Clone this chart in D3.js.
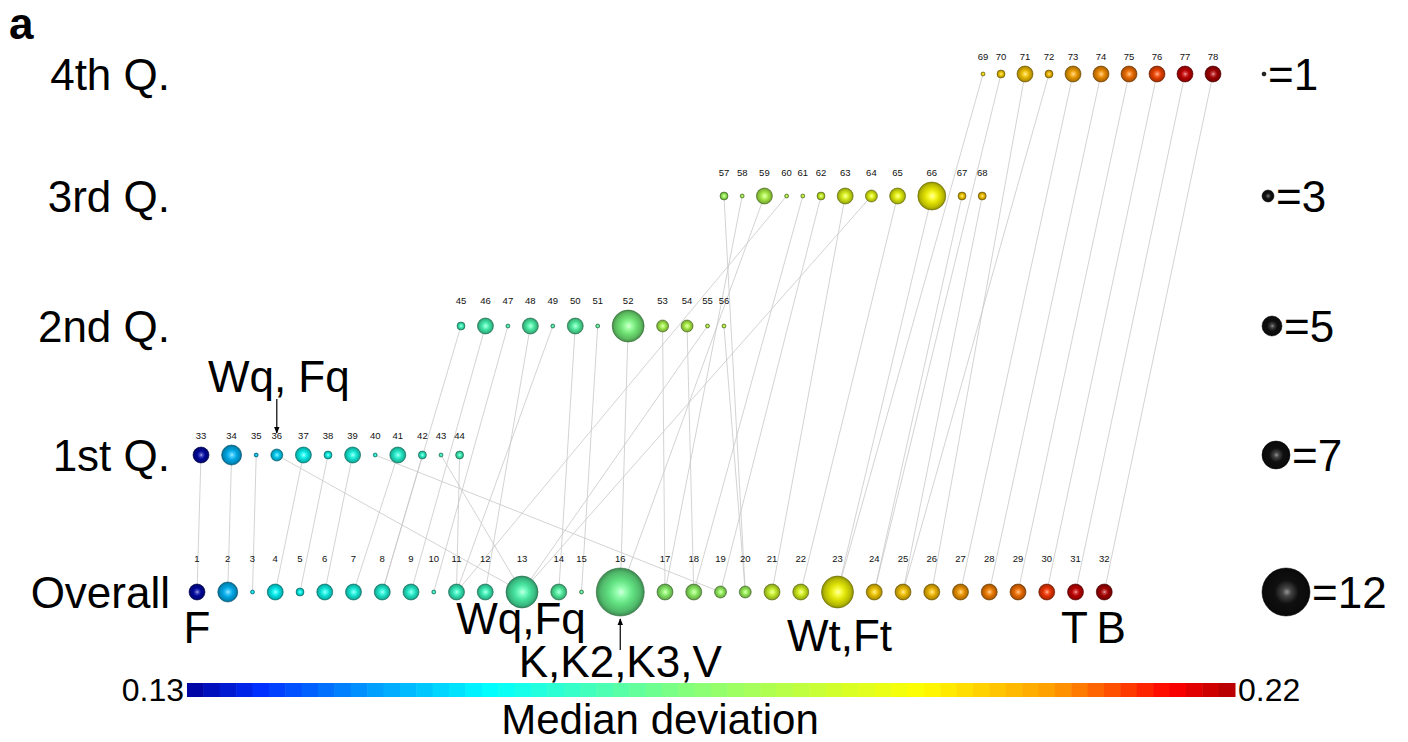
<!DOCTYPE html>
<html>
<head>
<meta charset="utf-8">
<script src="https://cdn.jsdelivr.net/npm/d3@7"></script>
<style>
  body { margin: 0; background: #fff; }
  text { font-family: "Liberation Sans", Arial, Helvetica, sans-serif; }
</style>
</head>
<body>
<svg id="svg" width="1408" height="742"></svg>
<script>
// ---- data ----
const rowNames = ["Overall", "1st Q.", "2nd Q.", "3rd Q.", "4th Q."];
const legendSize = [12, 7, 5, 3, 1];

// overall: nodes 1..32
const overallSize = [4, 5, 1, 4, 2, 4, 4, 4, 4, 1, 4, 4, 8, 4, 1, 12, 4, 4, 3, 3, 4, 4, 8, 4, 4, 4, 4, 4, 4, 4, 4, 4];
const overallMedian = [0.131, 0.149, 0.155, 0.156, 0.157, 0.158, 0.159, 0.160, 0.161, 0.162, 0.163, 0.164,
  0.166, 0.167, 0.168, 0.170, 0.175, 0.176, 0.177, 0.178, 0.186, 0.188, 0.192, 0.198, 0.199, 0.200,
  0.204, 0.206, 0.207, 0.211, 0.218, 0.220];

// quarters: nodes 33..78, link = overall node each one joins
const q1Size = [4, 5, 1, 3, 4, 2, 4, 1, 4, 2, 1, 2];
const q1Median = [0.131, 0.149, 0.151, 0.152, 0.157, 0.158, 0.159, 0.160, 0.161, 0.162, 0.163, 0.164];
const q1Link = [1, 2, 3, 13, 4, 5, 6, 19, 7, 8, 13, 11];

const q2Size = [2, 4, 1, 4, 1, 4, 1, 8, 3, 3, 1, 1];
const q2Median = [0.164, 0.165, 0.165, 0.166, 0.166, 0.167, 0.168, 0.172, 0.180, 0.181, 0.182, 0.183];
const q2Link = [8, 9, 10, 12, 11, 14, 15, 16, 17, 18, 13, 20];

const q3Size = [2, 1, 4, 1, 1, 2, 4, 3, 4, 7, 2, 2];
const q3Median = [0.178, 0.180, 0.181, 0.182, 0.184, 0.186, 0.189, 0.190, 0.191, 0.193, 0.198, 0.199];
const q3Link = [20, 17, 16, 11, 18, 19, 21, 13, 22, 23, 24, 25];

const q4Size = [1, 2, 4, 2, 4, 4, 4, 4, 4, 4];
const q4Median = [0.196, 0.198, 0.199, 0.200, 0.203, 0.205, 0.207, 0.210, 0.218, 0.220];
const q4Link = [23, 24, 26, 25, 27, 28, 29, 30, 31, 32];

const colorStops = [0, 0.07, 0.18, 0.29, 0.47, 0.70, 0.83, 0.94, 1];
const colorList = ["#00009a", "#0030ff", "#00a0ff", "#00ffff", "#80ff80", "#ffff00", "#ff9900", "#ff0000", "#b00000"];
const medianDomain = [0.13, 0.22];
const medianTicks = ["0.13", "0.22"];

const annotations = [
  { text: "F", node: 1, dx: 0, y: 643 },
  { text: "Wq,Fq", node: 13, dx: -1, y: 634 },
  { text: "K,K2,K3,V", node: 16, dx: 0, y: 677, arrow: [650, 619] },
  { text: "Wt,Ft", node: 23, dx: 2, y: 651 },
  { text: "T", node: 31, dx: -1, y: 643 },
  { text: "B", node: 32, dx: 7, y: 643 },
  { text: "Wq, Fq", node: 36, dx: 2, y: 392, arrow: [399, 433] }
];

// ---- layout ----
const svg = d3.select("#svg");
const W = 1408, H = 742;
svg.append("rect").attr("width", W).attr("height", H).attr("fill", "#fff");

const rowY = d3.scaleOrdinal().domain(rowNames).range([592, 455, 326, 196, 74]);
const rowStart = [197, 201, 461, 724, 983];
const rowGap = [12.75, 12.6, 12.45, 12.2, 12.0];
const rScale = d3.scaleLinear().domain([0, 12]).range([0, 24]);

const t = d3.scaleLinear().domain(medianDomain).range([0, 1]).clamp(true);
const cmap = d3.scaleLinear().domain(colorStops).range(colorList).interpolate(d3.interpolateRgb);
const color = v => cmap(t(v));

const rowsData = [
  { size: overallSize, median: overallMedian, link: null },
  { size: q1Size, median: q1Median, link: q1Link },
  { size: q2Size, median: q2Median, link: q2Link },
  { size: q3Size, median: q3Median, link: q3Link },
  { size: q4Size, median: q4Median, link: q4Link }
];

let nodes = [];
let id = 1;
rowsData.forEach((row, ri) => {
  let x = rowStart[ri];
  row.size.forEach((s, i) => {
    if (i > 0) x += rScale(row.size[i - 1]) + rScale(s) + rowGap[ri];
    nodes.push({
      id: id++, row: ri, x: x, y: rowY(rowNames[ri]), r: rScale(s),
      median: row.median[i], link: row.link ? row.link[i] : null
    });
  });
});
const byId = {};
nodes.forEach(n => byId[n.id] = n);

// ---- gradients ----
const defs = svg.append("defs");
function ballGradient(gid, c, hi) {
  const base = d3.color(c);
  const g = defs.append("radialGradient").attr("id", gid)
    .attr("cx", "50%").attr("cy", "50%").attr("r", "50%")
    .attr("fx", "52%").attr("fy", "50%");
  g.append("stop").attr("offset", "0%").attr("stop-color", d3.interpolateRgb(c, "#fff")(hi));
  g.append("stop").attr("offset", "18%").attr("stop-color", d3.interpolateRgb(c, "#fff")(hi * 0.4));
  g.append("stop").attr("offset", "50%").attr("stop-color", base.darker(0.35));
  g.append("stop").attr("offset", "82%").attr("stop-color", base.darker(0.9));
  g.append("stop").attr("offset", "100%").attr("stop-color", base.darker(1.7));
}
nodes.forEach(n => ballGradient("g" + n.id, color(n.median), 0.7));
ballGradient("gblack", "#111", 0.55);

defs.append("marker").attr("id", "arrow")
  .attr("viewBox", "0 0 10 10").attr("refX", 9).attr("refY", 5)
  .attr("markerWidth", 6).attr("markerHeight", 6).attr("orient", "auto")
  .append("path").attr("d", "M0,1 L10,5 L0,9 Z").attr("fill", "#000");

// ---- links ----
const linkG = svg.append("g");
nodes.filter(n => n.link).forEach(n => {
  const o = byId[n.link];
  linkG.append("line")
    .attr("x1", n.x).attr("y1", n.y).attr("x2", o.x).attr("y2", o.y)
    .attr("stroke", "#c8c8c8").attr("stroke-width", 0.8);
});

// ---- balls + numbers ----
const rowMaxR = rowsData.map(row => rScale(d3.max(row.size)));
const ballG = svg.append("g");
ballG.selectAll("circle").data(nodes).join("circle")
  .attr("cx", d => d.x).attr("cy", d => d.y).attr("r", d => d.r)
  .attr("fill", d => `url(#g${d.id})`)
  .attr("stroke", d => d3.color(color(d.median)).darker(2.5))
  .attr("stroke-width", 0.6);

ballG.selectAll("text").data(nodes).join("text")
  .attr("x", d => d.x).attr("y", d => d.y - rowMaxR[d.row] - 6)
  .attr("text-anchor", "middle").attr("font-size", 9.5).attr("fill", "#111")
  .text(d => d.id);

// ---- row labels ----
svg.append("g").selectAll("text").data(rowNames).join("text")
  .attr("x", 170).attr("y", d => rowY(d) + 16)
  .attr("text-anchor", "end").attr("font-size", 44).attr("fill", "#000")
  .text(d => d);

// ---- size legend ----
const legG = svg.append("g");
rowNames.forEach((rn, i) => {
  const r = rScale(legendSize[i]);
  const cx = 1262 + r;
  const cy = rowY(rn);
  legG.append("circle").attr("cx", cx).attr("cy", cy).attr("r", r)
    .attr("fill", "url(#gblack)").attr("stroke", "#000").attr("stroke-width", 0.5);
  legG.append("text").attr("x", cx + r + 2).attr("y", cy + 16)
    .attr("font-size", 44).attr("fill", "#000").text("=" + legendSize[i]);
});

// ---- annotations ----
const annG = svg.append("g");
annotations.forEach(a => {
  const n = byId[a.node];
  annG.append("text").attr("x", n.x + a.dx).attr("y", a.y)
    .attr("text-anchor", "middle").attr("font-size", 44).attr("fill", "#000")
    .text(a.text);
  if (a.arrow) {
    annG.append("line").attr("x1", n.x).attr("y1", a.arrow[0])
      .attr("x2", n.x).attr("y2", a.arrow[1])
      .attr("stroke", "#000").attr("stroke-width", 1.2)
      .attr("marker-end", "url(#arrow)");
  }
});

// ---- colour bar ----
const barX = d3.scaleLinear().domain(medianDomain).range([187, 1235]);
const nSteps = 64;
const stepW = (medianDomain[1] - medianDomain[0]) / nSteps;
const steps = d3.range(nSteps).map(i => medianDomain[0] + stepW * i);
svg.append("g").selectAll("rect").data(steps).join("rect")
  .attr("x", d => barX(d)).attr("y", 683)
  .attr("width", d => barX(d + stepW) - barX(d) + 0.5).attr("height", 14)
  .attr("fill", d => color(d + stepW / 2));

svg.append("text").attr("x", barX(medianDomain[0]) - 3).attr("y", 701)
  .attr("text-anchor", "end").attr("font-size", 32).text(medianTicks[0]);
svg.append("text").attr("x", barX(medianDomain[1]) + 3).attr("y", 701)
  .attr("text-anchor", "start").attr("font-size", 32).text(medianTicks[1]);
svg.append("text").attr("x", 660).attr("y", 734)
  .attr("text-anchor", "middle").attr("font-size", 42).text("Median deviation");

// panel letter
svg.append("text").attr("x", 9).attr("y", 39)
  .attr("font-size", 44).attr("font-weight", "bold").text("a");
</script>
</body>
</html>
